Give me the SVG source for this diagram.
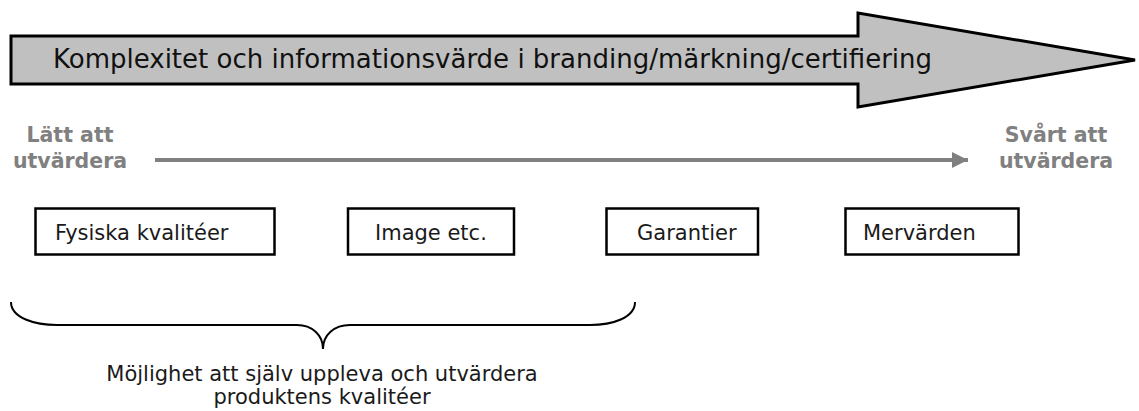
<svg xmlns="http://www.w3.org/2000/svg" width="1139" height="411" viewBox="0 0 1139 411">
<style>
.box{fill:#fff;stroke:#000;stroke-width:2.5}
.lbl{font-family:"DejaVu Sans",Verdana,sans-serif;font-size:21px;fill:#1a1a1a}
.gray{font-family:"DejaVu Sans",Verdana,sans-serif;font-size:20.5px;font-weight:bold;fill:#808080;text-anchor:middle}
.note{font-family:"DejaVu Sans",Verdana,sans-serif;font-size:21px;fill:#1a1a1a;text-anchor:middle}
</style>
<defs>
<marker id="ah" viewBox="0 0 10 10" refX="10" refY="5" markerWidth="4" markerHeight="4" markerUnits="strokeWidth" orient="auto">
<path d="M0,0 L10,5 L0,10 z" fill="#808080"/>
</marker>
</defs>
<rect width="1139" height="411" fill="#fff"/>
<g id="big-arrow">
<polygon points="11,36 858,36 858,13 1135,60 858,107 858,84 11,84" fill="#c0c0c0" stroke="#000" stroke-width="3" stroke-linejoin="miter"/>
<text x="53" y="68" font-family="'DejaVu Sans',Verdana,sans-serif" font-size="26" fill="#111">Komplexitet och informationsvärde i branding/märkning/certifiering</text>
</g>
<g id="easy-label">
<text class="gray" x="70" y="142">Lätt att</text>
<text class="gray" x="70" y="168">utvärdera</text>
</g>
<g id="hard-label">
<text class="gray" x="1056" y="142">Svårt att</text>
<text class="gray" x="1056" y="168">utvärdera</text>
</g>
<g id="connectors">
<line x1="155" y1="160" x2="968" y2="160" stroke="#808080" stroke-width="4" marker-end="url(#ah)"/>
<path d="M11,302 C11,318 35,325 57,325 L297,325 C312,325 323,335 323,349 C323,335 334,325 350,325 L590,325 C612,325 635,318 635,302" fill="none" stroke="#000" stroke-width="2"/>
</g>
<g id="node-fysiska">
<rect class="box" x="35.5" y="208.5" width="239" height="46"/>
<text class="lbl" x="55" y="240">Fysiska kvalitéer</text>
</g>
<g id="node-image">
<rect class="box" x="348" y="208.5" width="166" height="46"/>
<text class="lbl" x="375" y="240">Image etc.</text>
</g>
<g id="node-garantier">
<rect class="box" x="606.5" y="208.5" width="151.5" height="46"/>
<text class="lbl" x="637" y="240">Garantier</text>
</g>
<g id="node-mervarden">
<rect class="box" x="845.5" y="208.5" width="173" height="46"/>
<text class="lbl" x="863" y="240">Mervärden</text>
</g>
<g id="brace-label">
<text class="note" x="322" y="381">Möjlighet att själv uppleva och utvärdera</text>
<text class="note" x="322" y="404">produktens kvalitéer</text>
</g>
</svg>
